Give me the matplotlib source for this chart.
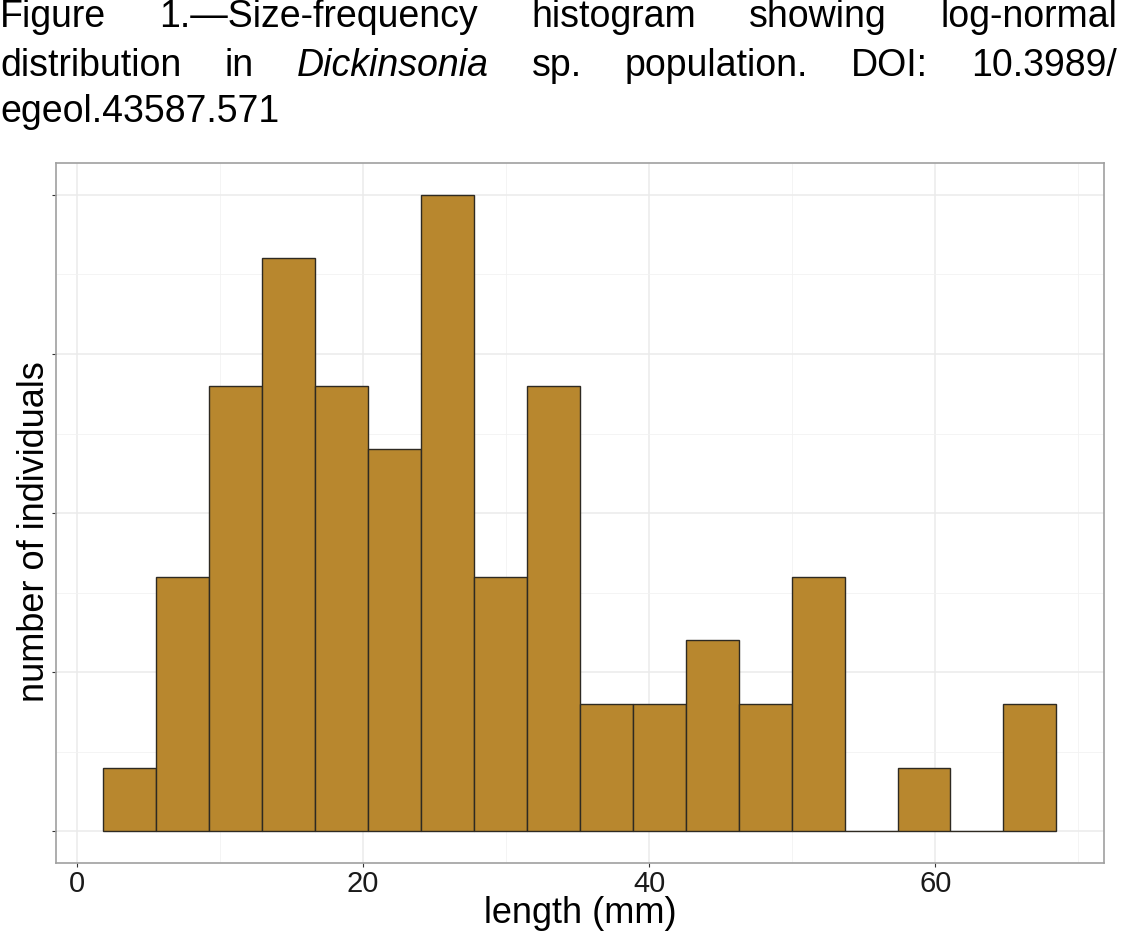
import numpy as np
import matplotlib
matplotlib.use('Agg')
import matplotlib.pyplot as plt
from matplotlib.ticker import FixedLocator

# ---- data ----
bin_edges = [1.86, 5.56, 9.26, 12.96, 16.66, 20.36, 24.06, 27.76, 31.46, 35.16,
             38.86, 42.56, 46.26, 49.96, 53.66, 57.36, 61.06, 64.76, 68.46]
counts = [1, 4, 7, 9, 7, 6, 10, 4, 7, 2, 2, 3, 2, 4, 0, 1, 0, 2]
x_ticks = [0, 20, 40, 60]
x_minor = [10, 30, 50, 70]
y_ticks = [0, 2.5, 5, 7.5, 10]
y_minor = [1.25, 3.75, 6.25, 8.75]
x_label = "length (mm)"
y_label = "number of individuals"
title_lines = [
    [("Figure", "normal"), ("1.\u2014Size-frequency", "normal"), ("histogram", "normal"),
     ("showing", "normal"), ("log-normal", "normal")],
    [("distribution", "normal"), ("in", "normal"), ("Dickinsonia", "italic"), ("sp.", "normal"),
     ("population.", "normal"), ("DOI:", "normal"), ("10.3989/", "normal")],
    [("egeol.43587.571", "normal")],
]

plt.rcParams['font.family'] = ['Liberation Sans', 'DejaVu Sans']

W, H = 1147, 933
fig = plt.figure(figsize=(W / 100, H / 100), dpi=100)
left_px, right_px, top_px, bot_px = 55.7, 1104, 163, 863.3
ax = fig.add_axes([left_px / W, 1 - bot_px / H, (right_px - left_px) / W, (bot_px - top_px) / H])

edges = np.array(bin_edges)
ax.bar(edges[:-1], counts, width=np.diff(edges), align='edge',
       color='#B8872E', edgecolor='#2e2a22', linewidth=1.0, zorder=3)

ax.set_xlim(-1.467, 71.79)
ax.set_ylim(-0.5, 10.5)
ax.xaxis.set_major_locator(FixedLocator(x_ticks))
ax.xaxis.set_minor_locator(FixedLocator(x_minor))
ax.yaxis.set_major_locator(FixedLocator(y_ticks))
ax.yaxis.set_minor_locator(FixedLocator(y_minor))
ax.set_axisbelow(True)
ax.grid(which='major', color='#ebebeb', linewidth=1.1, zorder=0)
ax.grid(which='minor', color='#f2f2f2', linewidth=0.6, zorder=0)

for s in ax.spines.values():
    s.set_color('#a0a0a0')
    s.set_linewidth(1.2)

ax.tick_params(which='major', length=2.6, width=0.8, color='#333333',
               labelsize=21, labelcolor='#1a1a1a', pad=2.5)
ax.tick_params(which='minor', length=0)
ax.tick_params(axis='y', labelleft=False)
ax.set_xticklabels([str(v) for v in x_ticks])

fig.text((left_px + right_px) / 2 / W, 1 - 923 / H, x_label, fontsize=26,
         ha='center', va='baseline')
fig.text(35 / W, 1 - 532 / H, y_label, rotation=90, fontsize=26,
         ha='center', va='center')

# justified caption
fig.canvas.draw()
renderer = fig.canvas.get_renderer()
fs = 27
baselines = [26.7, 75.5, 122.0]
x0, x1 = 0.0, 1117.0
for li, words in enumerate(title_lines):
    texts = []
    widths = []
    for w, st in words:
        t = fig.text(0, 1 - baselines[li] / H, w, fontsize=fs, fontstyle=st,
                     ha='left', va='baseline')
        bb = t.get_window_extent(renderer)
        texts.append(t)
        widths.append(bb.width)
    if len(words) > 1 and li < len(title_lines) - 1:
        gap = (x1 - x0 - sum(widths)) / (len(words) - 1)
    else:
        gap = 0
    x = x0
    for t, wd in zip(texts, widths):
        t.set_x(x / W)
        x += wd + gap

fig.savefig('out.png', dpi=100)
